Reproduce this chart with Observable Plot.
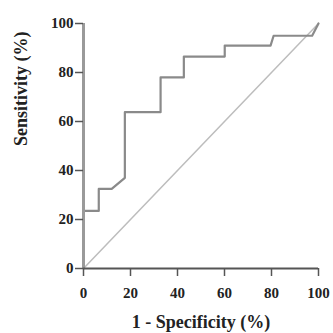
<!DOCTYPE html>
<html><head><meta charset="utf-8">
<script src="https://cdn.jsdelivr.net/npm/d3@7"></script>
<script src="https://cdn.jsdelivr.net/npm/@observablehq/plot@0.6"></script>
<style>body{margin:0;background:#fff}</style>
</head><body><div id="chart"></div>
<script>
const rocX = [0, 0, 6.5, 6.5, 12, 17.6, 17.6, 32.8, 32.8, 42.7, 42.7, 60.1, 60.1, 79.6, 80.9, 97.3, 100];
const rocY = [0, 23.5, 23.5, 32.5, 32.5, 37, 63.8, 63.8, 78, 78, 86.5, 86.5, 91, 91, 95, 95, 100];
const diagX = [0, 100];
const diagY = [0, 100];
const ticks = [0, 20, 40, 60, 80, 100];
const xTitle = "1 - Specificity (%)";
const yTitle = "Sensitivity (%)";

const roc = rocX.map((x, i) => ({x, y: rocY[i]}));
const diag = diagX.map((x, i) => ({x, y: diagY[i]}));

const chart = Plot.plot({
  width: 333, height: 333,
  marginLeft: 83, marginRight: 15, marginTop: 23, marginBottom: 65,
  style: {fontFamily: "Liberation Serif", fontWeight: "bold", fontSize: "15px", color: "#222", background: "#fff"},
  x: {domain: [0, 100]},
  y: {domain: [0, 100]},
  marks: [
    Plot.line(diag, {x: "x", y: "y", stroke: "#bdbdbd", strokeWidth: 1.5}),
    Plot.line(roc, {x: "x", y: "y", stroke: "#8a8a8a", strokeWidth: 2.2}),
    Plot.ruleX([0], {stroke: "#9a9a9a", strokeWidth: 3}),
    Plot.ruleY([0], {stroke: "#555", strokeWidth: 2}),
    Plot.axisX({ticks, tickSize: 8, tickPadding: 11, strokeWidth: 1.5, stroke: "#555", label: null, fontSize: 15}),
    Plot.axisY({ticks, tickSize: 8, tickPadding: 2, strokeWidth: 1.5, stroke: "#555", label: null, fontSize: 15}),
    Plot.text([xTitle], {frameAnchor: "bottom", dy: 59, fontSize: 18, fontWeight: "bold", fill: "#222"}),
    Plot.text([yTitle], {frameAnchor: "left", dx: -62, rotate: -90, fontSize: 18, fontWeight: "bold", fill: "#222"})
  ]
});
document.getElementById("chart").appendChild(chart);
</script></body></html>
